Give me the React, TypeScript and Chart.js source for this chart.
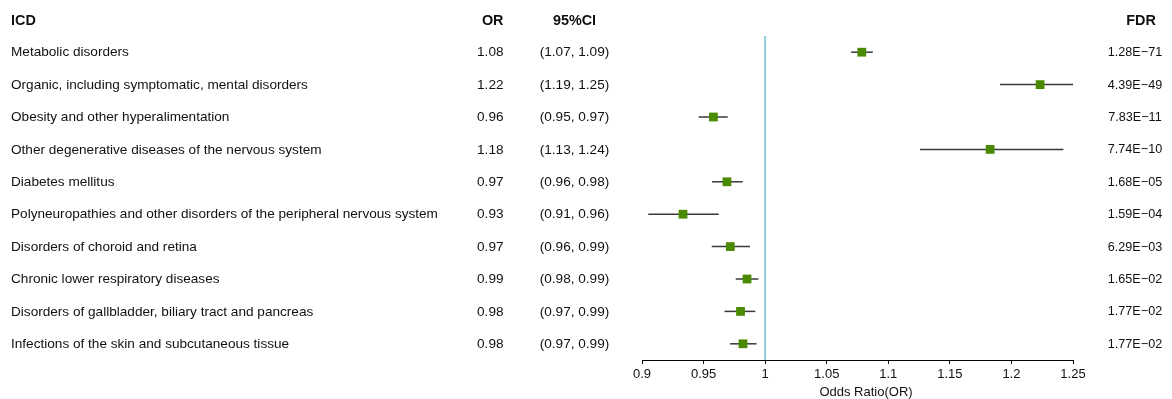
import React, { useEffect, useRef } from "react";
import { Chart, registerables } from "chart.js";

Chart.register(...registerables);

const icdNames = [
  "Metabolic disorders",
  "Organic, including symptomatic, mental disorders",
  "Obesity and other hyperalimentation",
  "Other degenerative diseases of the nervous system",
  "Diabetes mellitus",
  "Polyneuropathies and other disorders of the peripheral nervous system",
  "Disorders of choroid and retina",
  "Chronic lower respiratory diseases",
  "Disorders of gallbladder, biliary tract and pancreas",
  "Infections of the skin and subcutaneous tissue",
];
const orText = ["1.08", "1.22", "0.96", "1.18", "0.97", "0.93", "0.97", "0.99", "0.98", "0.98"];
const ciText = [
  "(1.07, 1.09)",
  "(1.19, 1.25)",
  "(0.95, 0.97)",
  "(1.13, 1.24)",
  "(0.96, 0.98)",
  "(0.91, 0.96)",
  "(0.96, 0.99)",
  "(0.98, 0.99)",
  "(0.97, 0.99)",
  "(0.97, 0.99)",
];
const fdrText = [
  "1.28E\u221271",
  "4.39E\u221249",
  "7.83E\u221211",
  "7.74E\u221210",
  "1.68E\u221205",
  "1.59E\u221204",
  "6.29E\u221203",
  "1.65E\u221202",
  "1.77E\u221202",
  "1.77E\u221202",
];
const orPoint = [1.0785, 1.2233, 0.958, 1.1827, 0.969, 0.9333, 0.9717, 0.9853, 0.98, 0.982];
const ciLow = [1.0698, 1.1908, 0.946, 1.1258, 0.9569, 0.9051, 0.9566, 0.9761, 0.967, 0.9715];
const ciHigh = [1.0874, 1.256, 0.9696, 1.2422, 0.9818, 0.9623, 0.9877, 0.9945, 0.992, 0.993];
const xMin = 0.9;
const xMax = 1.25;
const xStep = 0.05;
const refValue = 1;
const headers = { icd: "ICD", or: "OR", ci: "95%CI", fdr: "FDR" };
const xTitle = "Odds Ratio(OR)";

const FONT = "'Liberation Sans', Arial, Helvetica, sans-serif";

export default function App() {
  const ref = useRef<HTMLCanvasElement | null>(null);

  useEffect(() => {
    if (!ref.current) return;
    Chart.defaults.font.family = FONT;

    const tablePlugin = {
      id: "tableText",
      afterDraw(chart: any) {
        const ctx = chart.ctx;
        const y = chart.scales.y;
        ctx.save();
        ctx.fillStyle = "#111";
        ctx.textBaseline = "middle";
        // headers
        ctx.font = `bold 14.4px ${FONT}`;
        const hy = 21;
        ctx.textAlign = "left";
        ctx.fillText(headers.icd, 11, hy);
        ctx.textAlign = "right";
        ctx.fillText(headers.or, 503.5, hy);
        ctx.textAlign = "center";
        ctx.fillText(headers.ci, 574.5, hy);
        ctx.fillText(headers.fdr, 1141, hy);
        // rows
        icdNames.forEach((name, i) => {
          const py = y.getPixelForValue(i + 1) + 0.5;
          ctx.font = `13.6px ${FONT}`;
          ctx.textAlign = "left";
          ctx.fillText(name, 11, py);
          ctx.textAlign = "right";
          ctx.fillText(orText[i], 503.5, py);
          ctx.textAlign = "center";
          ctx.fillText(ciText[i], 574.5, py);
          ctx.font = `12.6px ${FONT}`;
          ctx.fillText(fdrText[i], 1135, py);
        });
        // axis title
        ctx.font = `13px ${FONT}`;
        ctx.textAlign = "center";
        ctx.fillText(xTitle, 866, 392);
        ctx.restore();
      },
    };

    const errDatasets = icdNames.map((_, i) => ({
      type: "line" as const,
      data: [
        { x: ciLow[i], y: i + 1 },
        { x: ciHigh[i], y: i + 1 },
      ],
      borderColor: "#3a3a3a",
      borderWidth: 1.5,
      pointRadius: 0,
      showLine: true,
      order: 2,
    }));

    const chart = new Chart(ref.current, {
      type: "scatter",
      data: {
        datasets: [
          {
            type: "line" as const,
            data: [
              { x: refValue, y: 0.5 },
              { x: refValue, y: 10.5 },
            ],
            borderColor: "#8fcfdb",
            borderWidth: 2,
            pointRadius: 0,
            showLine: true,
            order: 3,
          },
          ...errDatasets,
          {
            type: "scatter" as const,
            data: orPoint.map((v, i) => ({ x: v, y: i + 1 })),
            backgroundColor: "#4a8a00",
            borderWidth: 0,
            pointStyle: "rect",
            pointRadius: 6.2,
            order: 1,
          },
        ],
      } as any,
      options: {
        animation: false,
        responsive: false,
        events: [],
        layout: { padding: { left: 642, right: 99, top: 36, bottom: 0 } },
        plugins: { legend: { display: false }, tooltip: { enabled: false } },
        scales: {
          x: {
            type: "linear",
            min: xMin,
            max: xMax,
            ticks: {
              stepSize: xStep,
              color: "#111",
              font: { size: 13 },
              padding: 3,
              callback: (v: any) => String(Math.round(Number(v) * 100) / 100),
            },
            grid: { display: true, drawOnChartArea: false, tickLength: 4, color: "#000" },
            border: { display: true, color: "#000", width: 1 },
            afterFit: (scale: any) => {
              scale.height = 39;
            },
          },
          y: {
            type: "linear",
            min: 0.5,
            max: 10.5,
            reverse: true,
            display: false,
          },
        },
      },
      plugins: [tablePlugin],
    });
    return () => chart.destroy();
  }, []);

  return (
    <canvas
      ref={ref}
      width={1172}
      height={399}
      style={{ position: "absolute", left: 0, top: 0, width: 1172, height: 399, background: "#fff" }}
    />
  );
}
